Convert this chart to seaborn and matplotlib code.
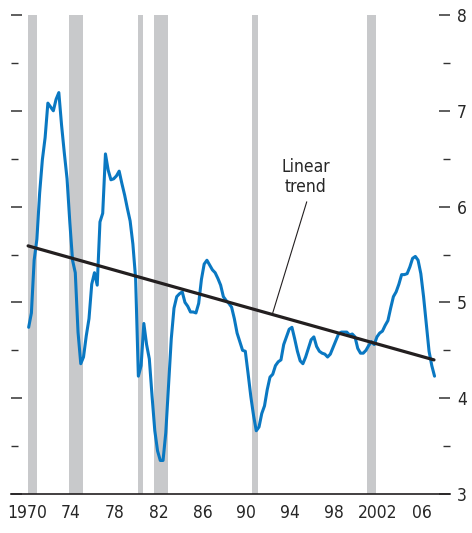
import numpy as np
import pandas as pd
import seaborn as sns
import matplotlib.pyplot as plt
import matplotlib.font_manager as fm
from matplotlib.ticker import FixedLocator

# quarterly series, first point at 1970.15
start_year = 1970.15
values = [
    4.74, 4.89, 5.44, 5.66,   # 1970
    6.14, 6.49, 6.72, 7.08,   # 1971
    7.04, 7.00, 7.12, 7.19,   # 1972
    6.85, 6.56, 6.29, 5.84,   # 1973
    5.44, 5.31, 4.69, 4.36,   # 1974
    4.43, 4.65, 4.83, 5.19,   # 1975
    5.31, 5.18, 5.84, 5.93,   # 1976
    6.55, 6.38, 6.28, 6.29,   # 1977
    6.32, 6.37, 6.24, 6.12,   # 1978
    5.98, 5.85, 5.61, 5.25,   # 1979
    4.23, 4.34, 4.78, 4.56,   # 1980
    4.41, 4.02, 3.66, 3.45,   # 1981
    3.35, 3.35, 3.64, 4.14,   # 1982
    4.62, 4.94, 5.06, 5.09,   # 1983
    5.11, 5.00, 4.96, 4.90,   # 1984
    4.90, 4.89, 4.99, 5.24,   # 1985
    5.40, 5.44, 5.39, 5.34,   # 1986
    5.31, 5.25, 5.18, 5.06,   # 1987
    5.02, 4.99, 4.95, 4.83,   # 1988
    4.68, 4.59, 4.50, 4.49,   # 1989
    4.26, 4.02, 3.82, 3.66,   # 1990
    3.70, 3.84, 3.92, 4.09,   # 1991
    4.22, 4.25, 4.34, 4.38,   # 1992
    4.40, 4.56, 4.64, 4.72,   # 1993
    4.74, 4.62, 4.49, 4.39,   # 1994
    4.36, 4.43, 4.52, 4.61,   # 1995
    4.64, 4.54, 4.49, 4.47,   # 1996
    4.46, 4.43, 4.46, 4.53,   # 1997
    4.60, 4.67, 4.69, 4.69,   # 1998
    4.69, 4.66, 4.67, 4.64,   # 1999
    4.52, 4.47, 4.47, 4.50,   # 2000
    4.55, 4.59, 4.56, 4.64,   # 2001
    4.68, 4.70, 4.76, 4.81,   # 2002
    4.94, 5.06, 5.11, 5.19,   # 2003
    5.29, 5.29, 5.30, 5.37,   # 2004
    5.46, 5.48, 5.44, 5.30,   # 2005
    5.06, 4.77, 4.49, 4.34,   # 2006
    4.23,                     # 2007
]

recessions = [(1970.09, 1970.91), (1973.83, 1975.10), (1980.09, 1980.55),
              (1981.58, 1982.83), (1990.55, 1991.05), (2001.0, 2001.8)]

trend_years = [1970.1, 2007.1]
trend_values = [5.59, 4.40]

major_years = list(range(1970, 2007, 4))
year_labels = ["1970", "74", "78", "82", "86", "90", "94", "98", "2002", "06"]
minor_years = [y for y in range(1971, 2008) if y not in major_years]

df = pd.DataFrame({"year": start_year + 0.25 * np.arange(len(values)),
                   "value": values})

sns.set_style('white')

# pick a narrow/condensed face if one is installed
names = {f.name for f in fm.fontManager.ttflist}
files = [f.fname for f in fm.fontManager.ttflist]
fsize = 13.5
if 'Liberation Sans Narrow' in names:
    plt.rcParams['font.family'] = ['Liberation Sans Narrow', 'DejaVu Sans']
elif any('DejaVuSansCondensed' in f for f in files):
    plt.rcParams['font.family'] = ['DejaVu Sans']
    plt.rcParams['font.stretch'] = 'condensed'
    fsize = 12.5
else:
    plt.rcParams['font.family'] = ['Liberation Sans', 'DejaVu Sans']
    fsize = 12.5

fig = plt.figure(figsize=(4.72, 5.33), dpi=100)
ax = fig.add_axes([11 / 472, 39 / 533, 439 / 472, 479 / 533])

# recession shading
for a, b in recessions:
    ax.axvspan(a, b, color='#c8c9cb', lw=0, zorder=0)

sns.lineplot(data=df, x="year", y="value", color='#0a78c2', lw=2.2, ax=ax, zorder=3)
sns.lineplot(x=trend_years, y=trend_values, color='#231f20', lw=2.3, ax=ax, zorder=4)

ax.text(1995.4, 6.31, "Linear\ntrend", ha='center', va='center', fontsize=fsize)
ax.plot([1995.5, 1992.4], [6.05, 4.89], color='#231f20', lw=0.8, zorder=4)

ax.set_xlim(1968.54, 2008.56)
ax.set_ylim(3, 8)
ax.set_xlabel("")
ax.set_ylabel("")

for s in ['top', 'left', 'right']:
    ax.spines[s].set_visible(False)
ax.spines['bottom'].set_color('#231f20')
ax.spines['bottom'].set_linewidth(1.2)

ax.xaxis.set_major_locator(FixedLocator(major_years))
ax.xaxis.set_minor_locator(FixedLocator(minor_years))
ax.set_xticklabels(year_labels)
ax.tick_params(axis='x', which='major', direction='inout', length=9, width=1.1,
               color='#231f20', labelsize=fsize, pad=3)
ax.tick_params(axis='x', which='minor', direction='inout', length=5, width=1.0,
               color='#231f20')

ax.yaxis.set_major_locator(FixedLocator([3, 4, 5, 6, 7, 8]))
ax.yaxis.set_minor_locator(FixedLocator([3.5, 4.5, 5.5, 6.5, 7.5]))
ax.tick_params(axis='y', which='both', left=True, right=True, labelleft=False,
               labelright=True, direction='in', color='#333333')
ax.tick_params(axis='y', which='major', length=8, width=1.1, labelsize=fsize, pad=5)
ax.tick_params(axis='y', which='minor', length=5, width=1.0)

fig.savefig("out.png", dpi=100)
